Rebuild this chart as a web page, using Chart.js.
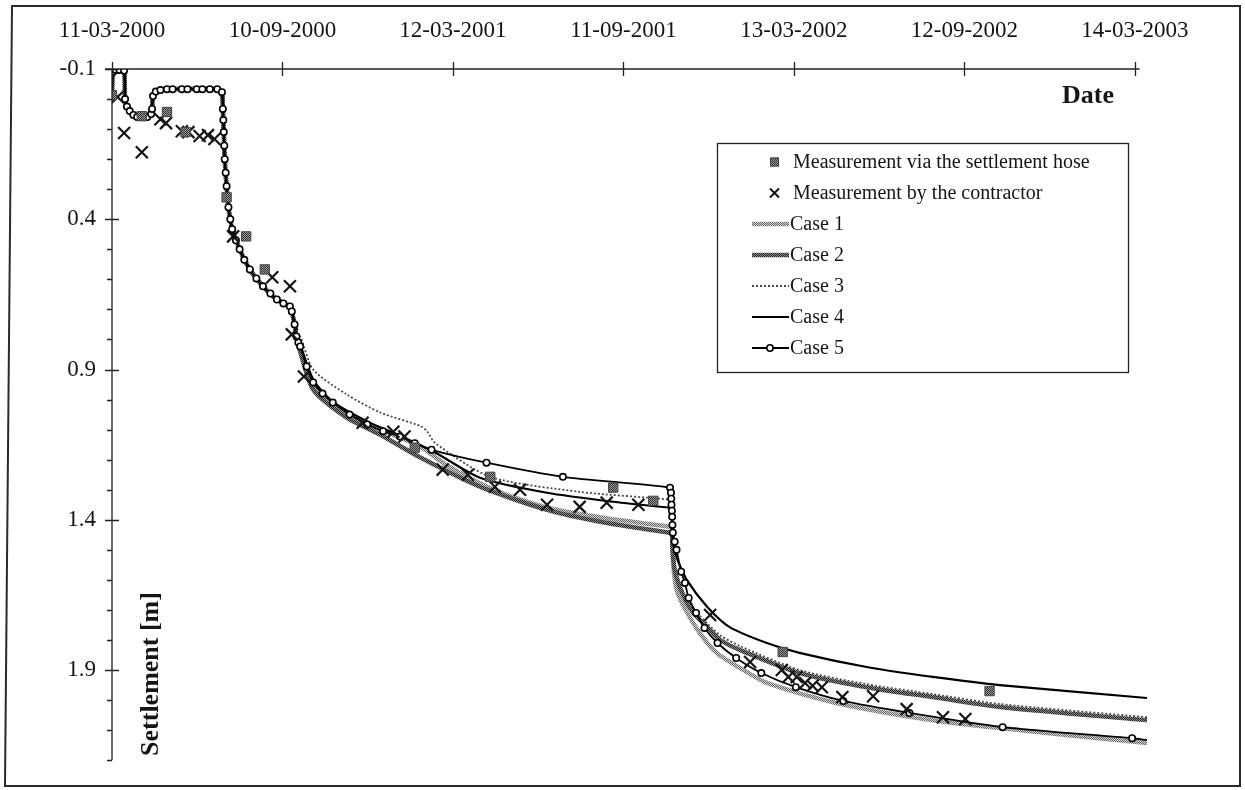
<!DOCTYPE html>
<html>
<head>
<meta charset="utf-8">
<script src="https://cdn.jsdelivr.net/npm/chart.js@4.4.1/dist/chart.umd.min.js"></script>
<style>
  html, body { margin: 0; padding: 0; background: #fff; }
  #wrap { width: 1245px; height: 790px; position: relative; }
</style>
</head>
<body>
<div id="wrap"><canvas id="chart" width="1245" height="790"></canvas></div>
<script>
// Time is counted in days from 11-03-2000; the top axis is labelled with calendar dates.
const dateTickDays   = [0, 183, 366, 549, 732, 915, 1098];
const dateTickLabels = ['11-03-2000', '10-09-2000', '12-03-2001', '11-09-2001', '13-03-2002', '12-09-2002', '14-03-2003'];
const settlementMajorTicks = [-0.1, 0.4, 0.9, 1.4, 1.9];

// Settlement [m] measured with the settlement hose
const hoseDays = [0, 32, 59, 79, 123, 144, 164, 325, 406, 538, 581, 720, 942];
const hoseValues = [-0.013, 0.057, 0.043, 0.11, 0.327, 0.457, 0.567, 1.16, 1.257, 1.293, 1.337, 1.84, 1.97];

// Settlement [m] measured by the contractor
const contractorDays = [6, 13, 32, 52, 58, 75, 82, 94, 103, 110, 130, 172, 191, 193, 206, 269, 302, 314,
  355, 382, 411, 438, 467, 502, 531, 565, 642, 685, 719, 726, 735, 744, 752, 762, 784, 817, 853, 892, 916];
const contractorValues = [-0.007, 0.113, 0.177, 0.067, 0.08, 0.107, 0.11, 0.123, 0.12, 0.133, 0.457, 0.593, 0.623, 0.783, 0.923, 1.077, 1.107, 1.123,
  1.233, 1.25, 1.29, 1.3, 1.35, 1.357, 1.343, 1.35, 1.717, 1.873, 1.9, 1.923, 1.923, 1.943, 1.952, 1.957, 1.99, 1.987, 2.03, 2.057, 2.063];

// Calculated settlement during the first fill stages (common to cases 1-4)
const earlyDays = [0, 1, 4, 8, 13, 14, 16, 19, 23, 27, 38, 42, 43, 44, 47, 52, 65, 113, 118, 119, 120, 121, 123, 125, 127, 129, 137, 148, 162, 177, 191, 193, 196, 198];
const earlyValues = [-0.01, -0.09, -0.097, -0.097, -0.095, 0.0, 0.025, 0.04, 0.053, 0.06, 0.06, 0.05, 0.033, -0.01, -0.025, -0.03, -0.033, -0.033, -0.023, 0.033, 0.11, 0.2, 0.29, 0.36, 0.4, 0.433, 0.5, 0.567, 0.623, 0.667, 0.69, 0.707, 0.75, 0.79];

// Calculated settlement after the first stages, per case
const case1Days = [202, 216, 252, 288, 331, 360, 410, 467, 530, 599, 601, 602, 606, 617, 631, 649, 674, 703, 774, 881, 975, 1111];
const case1Values = [0.833, 0.957, 1.05, 1.1, 1.157, 1.22, 1.3, 1.36, 1.395, 1.423, 1.425, 1.533, 1.633, 1.707, 1.777, 1.843, 1.893, 1.943, 2.007, 2.067, 2.1, 2.143];

const case2Days = [202, 216, 252, 288, 331, 395, 467, 530, 599, 601, 601.5, 604, 612, 624, 639, 653, 674, 738, 810, 881, 953, 1111];
const case2Values = [0.84, 0.967, 1.06, 1.117, 1.193, 1.29, 1.367, 1.41, 1.443, 1.445, 1.483, 1.567, 1.643, 1.71, 1.757, 1.8, 1.833, 1.91, 1.957, 1.99, 2.023, 2.067];

const case3Days = [202, 216, 252, 288, 331, 338, 347, 406, 502, 599, 601, 602, 604, 612, 624, 639, 653, 674, 738, 810, 881, 953, 1111];
const case3Values = [0.79, 0.9, 0.983, 1.043, 1.088, 1.105, 1.145, 1.257, 1.307, 1.333, 1.34, 1.45, 1.55, 1.63, 1.695, 1.745, 1.785, 1.82, 1.9, 1.947, 1.98, 2.013, 2.057];

const case4Days = [202, 216, 237, 274, 309, 345, 395, 467, 538, 599, 601, 602, 604, 607, 617, 639, 663, 703, 738, 810, 881, 953, 1111];
const case4Values = [0.817, 0.933, 1.007, 1.073, 1.12, 1.173, 1.26, 1.31, 1.34, 1.36, 1.363, 1.467, 1.5, 1.533, 1.6, 1.69, 1.757, 1.81, 1.843, 1.89, 1.923, 1.95, 1.993];

const case5Days = [0, 1, 4, 8, 13, 14, 16, 19, 23, 27, 32, 38, 42, 43, 44, 47, 52, 59, 65, 75, 81, 91, 97, 105, 113, 118, 119, 119.5, 120, 120.5, 121, 122, 123, 125, 127, 129, 133, 137, 142, 148, 155, 162, 170, 177, 184, 191, 193, 196, 198,
  200, 202, 209, 216, 226, 237, 255, 274, 291, 309, 325, 343, 402, 484, 599, 600, 600.3, 600.6, 601, 601.3, 601.6, 602, 604, 606, 611, 615, 619, 627, 636, 650, 670, 697, 734, 785, 856, 956, 1095, 1111];
const case5Values = [-0.01, -0.09, -0.097, -0.097, -0.095, 0.0, 0.025, 0.04, 0.053, 0.06, 0.06, 0.06, 0.05, 0.033, -0.01, -0.025, -0.03, -0.033, -0.033, -0.033, -0.033, -0.033, -0.033, -0.033, -0.033, -0.023, 0.033, 0.07, 0.11, 0.155, 0.2, 0.245, 0.29, 0.36, 0.4, 0.433, 0.47, 0.5, 0.535, 0.567, 0.597, 0.623, 0.647, 0.667, 0.68, 0.69, 0.707, 0.75, 0.79,
  0.81, 0.823, 0.89, 0.943, 0.98, 1.01, 1.05, 1.083, 1.105, 1.123, 1.145, 1.167, 1.21, 1.257, 1.293, 1.31, 1.33, 1.35, 1.37, 1.39, 1.417, 1.443, 1.473, 1.5, 1.573, 1.61, 1.66, 1.71, 1.76, 1.81, 1.86, 1.91, 1.957, 2.003, 2.043, 2.09, 2.127, 2.133];

const toPoints = (xs, ys) => xs.map((d, i) => ({ x: d, y: ys[i] }));
const withEarly = (xs, ys) => toPoints(earlyDays.concat(xs), earlyValues.concat(ys));

// small two-tone stipple used for the grey, grainy line fills
function stipple(dark, light) {
  const c = document.createElement('canvas');
  c.width = 2; c.height = 2;
  const g = c.getContext('2d');
  g.fillStyle = light; g.fillRect(0, 0, 2, 2);
  g.fillStyle = dark; g.fillRect(0, 0, 1, 1); g.fillRect(1, 1, 1, 1);
  return g.createPattern(c, 'repeat');
}
const lightStipple = stipple('#666', '#d6d6d6');
const darkStipple = stipple('#222', '#8c8c8c');
const squareFill = stipple('#333', '#999');

const SERIF = '"Liberation Serif", "Times New Roman", serif';
const INK = '#151515';

const datasets = [
  { label: 'Measurement via the settlement hose', data: toPoints(hoseDays, hoseValues), showLine: false,
    pointStyle: 'rect', pointRadius: 6.6, pointBackgroundColor: squareFill, pointBorderColor: '#444', pointBorderWidth: 1, order: 0, kind: 'square' },
  { label: 'Measurement by the contractor', data: toPoints(contractorDays, contractorValues), showLine: false,
    pointStyle: 'crossRot', pointRadius: 8.5, pointBorderColor: INK, pointBorderWidth: 2.2, order: 0, kind: 'cross' },
  { label: 'Case 1', data: withEarly(case1Days, case1Values), showLine: true, borderColor: lightStipple, borderWidth: 4.5,
    pointRadius: 0, tension: 0.25, order: 5, kind: 'line' },
  { label: 'Case 2', data: withEarly(case2Days, case2Values), showLine: true, borderColor: darkStipple, borderWidth: 4.5,
    pointRadius: 0, tension: 0.25, order: 3, kind: 'line' },
  { label: 'Case 3', data: withEarly(case3Days, case3Values), showLine: true, borderColor: '#4a4a4a', borderWidth: 1.8, borderDash: [2, 2],
    pointRadius: 0, tension: 0.25, order: 4, kind: 'line' },
  { label: 'Case 4', data: withEarly(case4Days, case4Values), showLine: true, borderColor: '#000', borderWidth: 2.2,
    pointRadius: 0, tension: 0.25, order: 2, kind: 'line' },
  { label: 'Case 5', data: toPoints(case5Days, case5Values), showLine: true, borderColor: '#000', borderWidth: 1.8,
    pointStyle: 'circle', pointRadius: (c) => (c.dataIndex === case5Days.length - 1 ? 0 : 3.2),
    pointBackgroundColor: '#fff', pointBorderColor: '#000', pointBorderWidth: 1.6, tension: 0.25, order: 1, kind: 'circleLine' }
];

const isMajor = (v) => settlementMajorTicks.some((m) => Math.abs(m - v) < 1e-6);

// axis lines with crossing tick marks, titles, legend box and outer frame
const decorations = {
  id: 'decorations',
  afterDraw(chart) {
    const { ctx, chartArea: a, scales: { x, y } } = chart;
    ctx.save();
    ctx.strokeStyle = '#222';
    ctx.lineWidth = 1.3;
    ctx.beginPath();
    const xEnd = x.getPixelForValue(1103);
    ctx.moveTo(a.left - 7, a.top); ctx.lineTo(xEnd, a.top);
    dateTickDays.forEach((d) => {
      const px = Math.round(x.getPixelForValue(d)) + 0.5;
      ctx.moveTo(px, a.top - 7); ctx.lineTo(px, a.top + 7);
    });
    ctx.moveTo(a.left, a.top); ctx.lineTo(a.left, a.bottom);
    y.ticks.forEach((t) => {
      const py = Math.round(y.getPixelForValue(t.value)) + 0.5;
      if (isMajor(t.value)) { ctx.moveTo(a.left - 7, py); ctx.lineTo(a.left + 7, py); }
      else { ctx.moveTo(a.left - 5, py); ctx.lineTo(a.left, py); }
    });
    ctx.stroke();

    // axis titles
    ctx.fillStyle = INK;
    ctx.font = 'bold 26px ' + SERIF;
    ctx.textAlign = 'center';
    ctx.textBaseline = 'middle';
    ctx.fillText('Date', 1088, 96);
    ctx.save();
    ctx.translate(151, 674);
    ctx.rotate(-Math.PI / 2);
    ctx.fillText('Settlement [m]', 0, 0);
    ctx.restore();

    // legend
    const L = 717, T = 143, W = 411, H = 229, rowY0 = 162, rowStep = 31;
    ctx.lineWidth = 1.3;
    ctx.strokeStyle = '#222';
    ctx.strokeRect(L + 0.5, T + 0.5, W, H);
    ctx.font = '20px ' + SERIF;
    ctx.textAlign = 'left';
    chart.data.datasets.forEach((ds, i) => {
      const ry = rowY0 + i * rowStep;
      if (ds.kind === 'square') {
        ctx.fillStyle = squareFill;
        ctx.fillRect(770, ry - 4.5, 9, 9);
        ctx.strokeStyle = '#444'; ctx.lineWidth = 1;
        ctx.strokeRect(770.5, ry - 4, 8, 8);
      } else if (ds.kind === 'cross') {
        ctx.strokeStyle = INK; ctx.lineWidth = 2;
        ctx.beginPath();
        ctx.moveTo(770, ry - 4.5); ctx.lineTo(779, ry + 4.5);
        ctx.moveTo(779, ry - 4.5); ctx.lineTo(770, ry + 4.5);
        ctx.stroke();
      } else {
        ctx.save();
        ctx.strokeStyle = ds.borderColor;
        ctx.lineWidth = ds.borderWidth;
        ctx.setLineDash(ds.borderDash || []);
        ctx.beginPath();
        ctx.moveTo(752, ry); ctx.lineTo(789, ry);
        ctx.stroke();
        ctx.restore();
        if (ds.kind === 'circleLine') {
          ctx.beginPath();
          ctx.arc(770, ry, 3.2, 0, Math.PI * 2);
          ctx.fillStyle = '#fff'; ctx.fill();
          ctx.strokeStyle = '#000'; ctx.lineWidth = 1.6; ctx.stroke();
        }
      }
      ctx.fillStyle = INK;
      const tx = (ds.kind === 'square' || ds.kind === 'cross') ? 793 : 790;
      ctx.fillText(ds.label, tx, ry + 1);
    });

    // outer frame
    ctx.strokeStyle = '#2a2a2a';
    ctx.lineWidth = 2;
    ctx.beginPath();
    ctx.moveTo(12, 6); ctx.lineTo(1240, 6); ctx.lineTo(1240, 786); ctx.lineTo(5, 786); ctx.closePath();
    ctx.stroke();
    ctx.restore();
  }
};

const whiteBackground = {
  id: 'whiteBackground',
  beforeDraw(chart) {
    const ctx = chart.ctx;
    ctx.save();
    ctx.fillStyle = '#fff';
    ctx.fillRect(0, 0, chart.width, chart.height);
    ctx.restore();
  }
};

new Chart(document.getElementById('chart'), {
  type: 'scatter',
  data: { datasets },
  options: {
    responsive: false,
    animation: false,
    devicePixelRatio: 1,
    layout: { padding: { left: 0, top: 0, right: 98, bottom: 27 } },
    plugins: { legend: { display: false }, tooltip: { enabled: false } },
    scales: {
      x: {
        type: 'linear', position: 'top', min: 0, max: 1111,
        afterFit: (s) => { s.height = 69; },
        afterBuildTicks: (s) => { s.ticks = dateTickDays.map((v) => ({ value: v })); },
        grid: { display: false, drawTicks: false },
        border: { display: false },
        ticks: {
          autoSkip: false, maxRotation: 0, padding: 24, color: INK,
          font: { family: SERIF, size: 23 },
          callback: (v) => dateTickLabels[dateTickDays.indexOf(v)]
        }
      },
      y: {
        type: 'linear', reverse: true, min: -0.1, max: 2.2,
        afterFit: (s) => { s.width = 112; },
        grid: { display: false, drawTicks: false },
        border: { display: false },
        ticks: {
          stepSize: 0.1, autoSkip: false, padding: 16, color: INK,
          font: { family: SERIF, size: 23 },
          callback: (v) => (isMajor(v) ? v.toFixed(1) : '')
        }
      }
    }
  },
  plugins: [whiteBackground, decorations]
});
</script>
</body>
</html>
